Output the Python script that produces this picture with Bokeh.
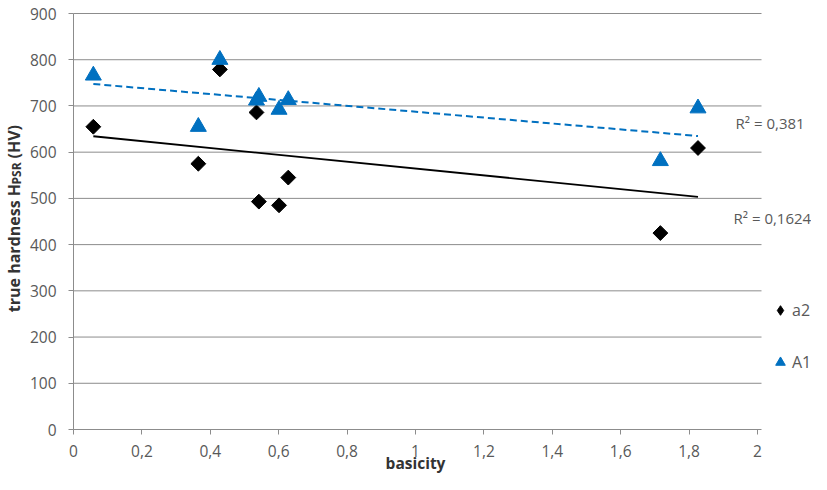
import numpy as np
from bokeh.plotting import figure
from bokeh.models import (Label, Legend, LegendItem, FixedTicker, Range1d,
                          ColumnDataSource)
from bokeh.embed import file_html
from bokeh.resources import INLINE

# ---- data ----
basicity = [0.058, 0.365, 0.428, 0.535, 0.542, 0.601, 0.628, 1.716, 1.826]
a2_hardness = [655, 575, 779, 686, 493, 485, 545, 425, 609]
A1_hardness = [766, 655, 800, 712, 720, 692, 713, 581, 695]
series_names = ["a2", "A1"]
r2_texts = ["R\u00b2 = 0,1624", "R\u00b2 = 0,381"]
x_ticks = [0, 0.2, 0.4, 0.6, 0.8, 1, 1.2, 1.4, 1.6, 1.8, 2]
x_tick_labels = ["0", "0,2", "0,4", "0,6", "0,8", "1", "1,2", "1,4", "1,6", "1,8", "2"]
y_ticks = [0, 100, 200, 300, 400, 500, 600, 700, 800, 900]
x_title = "basicity"
y_title_parts = ["true hardness H", "PSR", "(HV)"]

FONT = "Open Sans"
GRID = "#8c8c8c"
TXT = "#595959"
BLUE = "#0070C0"
TITLE_C = "#333333"

# ---- geometry (pixels inside the 811 x 474 canvas) ----
W, H = 811, 474
X0_PX, X2_PX = 73, 757        # where x = 0 and x = 2 sit
Y0_PX, Y900_PX = 429, 13      # where y = 0 and y = 900 sit (from top)
sx = (X2_PX - X0_PX) / 2.0
sy = (Y0_PX - Y900_PX) / 900.0
x_range = Range1d(-X0_PX / sx, (W - X0_PX) / sx)
y_range = Range1d(-(H - Y0_PX) / sy, Y0_PX / sy)

p = figure(width=W, height=H, output_backend="svg", toolbar_location=None,
           x_range=x_range, y_range=y_range,
           min_border_left=0, min_border_right=0,
           min_border_top=0, min_border_bottom=0)
p.outline_line_color = None
p.background_fill_color = "white"
p.border_fill_color = "white"
p.xgrid.visible = False
p.ygrid.visible = False

# axes drawn at x = 0 / y = 0 inside the frame
p.xaxis.ticker = FixedTicker(ticks=x_ticks)
p.xaxis.major_label_overrides = {t: l for t, l in zip(x_ticks, x_tick_labels)}
p.yaxis.ticker = FixedTicker(ticks=y_ticks)
p.xaxis.fixed_location = 0
p.yaxis.fixed_location = 0
p.xaxis.bounds = (x_ticks[0], x_ticks[-1])
p.yaxis.bounds = (y_ticks[0], y_ticks[-1])
for ax in (p.xaxis[0], p.yaxis[0]):
    ax.axis_line_color = GRID
    ax.major_tick_line_color = GRID
    ax.major_tick_out = 5
    ax.major_tick_in = 0
    ax.minor_tick_out = 0
    ax.minor_tick_in = 0
    ax.major_label_text_font = FONT
    ax.major_label_text_font_size = "15.5px"
    ax.major_label_text_color = TXT
p.xaxis.major_label_standoff = 10
p.yaxis.major_label_standoff = 12

# horizontal grid lines, from the y ticks
grid_end = x_ticks[-1] + 4 / sx
p.segment(x0=[x_ticks[0]] * len(y_ticks), y0=y_ticks,
          x1=[grid_end] * len(y_ticks), y1=y_ticks,
          line_color=GRID, line_width=1, level="underlay")

# ---- trend lines (least squares fit of each series) ----
xs = np.array(basicity)
xfit = np.array([xs.min(), xs.max()])
k_a2, b_a2 = np.polyfit(xs, np.array(a2_hardness), 1)
k_A1, b_A1 = np.polyfit(xs, np.array(A1_hardness), 1)
p.line(xfit, k_a2 * xfit + b_a2, line_color="black", line_width=1.8)
p.line(xfit, k_A1 * xfit + b_A1, line_color=BLUE, line_width=2, line_dash="7 4")

# ---- points ----
src = ColumnDataSource(dict(x=basicity, a2=a2_hardness, A1=A1_hardness))
r_a2 = p.scatter("x", "a2", source=src, marker="square", angle=np.pi / 4,
                 size=10.5, fill_color="black", line_color="black")
r_A1 = p.scatter("x", "A1", source=src, marker="triangle", size=16,
                 fill_color=BLUE, line_color=BLUE)
# legend-only diamond (zero size on the plot)
r_leg_a2 = p.scatter("x", "a2", source=src, marker="diamond", size=0,
                     fill_color="black", line_color="black")

legend = Legend(items=[LegendItem(label=series_names[0], renderers=[r_leg_a2]),
                       LegendItem(label=series_names[1], renderers=[r_A1])],
                location=(768, 100), orientation="vertical", padding=0, margin=0,
                spacing=28, glyph_width=24, glyph_height=24, label_standoff=0,
                border_line_color=None, background_fill_alpha=0,
                label_text_font=FONT, label_text_font_size="16px",
                label_text_color=TXT)
p.add_layout(legend)

# ---- R^2 labels ----
p.add_layout(Label(x=1.930, y=457.6, text=r2_texts[0], text_font=FONT,
                   text_font_size="15px", text_color=TXT, text_baseline="middle"))
p.add_layout(Label(x=1.936, y=662.6, text=r2_texts[1], text_font=FONT,
                   text_font_size="15px", text_color=TXT, text_baseline="middle"))

# ---- axis titles ----
p.add_layout(Label(x=1.0, y=12, x_units="data", y_units="screen", text=x_title,
                   text_font=FONT, text_font_size="15.5px", text_font_style="bold",
                   text_color=TITLE_C, text_align="center", text_baseline="alphabetic"))
p.add_layout(Label(x=13, y=162.3, x_units="screen", y_units="screen", angle=np.pi / 2,
                   text=y_title_parts[0], text_font=FONT, text_font_size="16px",
                   text_font_style="bold", text_color=TITLE_C, text_align="left",
                   text_baseline="alphabetic"))
p.add_layout(Label(x=15.5, y=290, x_units="screen", y_units="screen", angle=np.pi / 2,
                   text=y_title_parts[1], text_font=FONT, text_font_size="12px",
                   text_font_style="bold", text_color=TITLE_C, text_align="left",
                   text_baseline="alphabetic"))
p.add_layout(Label(x=13, y=316, x_units="screen", y_units="screen", angle=np.pi / 2,
                   text=y_title_parts[2], text_font=FONT, text_font_size="16px",
                   text_font_style="bold", text_color=TITLE_C, text_align="left",
                   text_baseline="alphabetic"))

open("out.html", "w").write(file_html(p, INLINE))
